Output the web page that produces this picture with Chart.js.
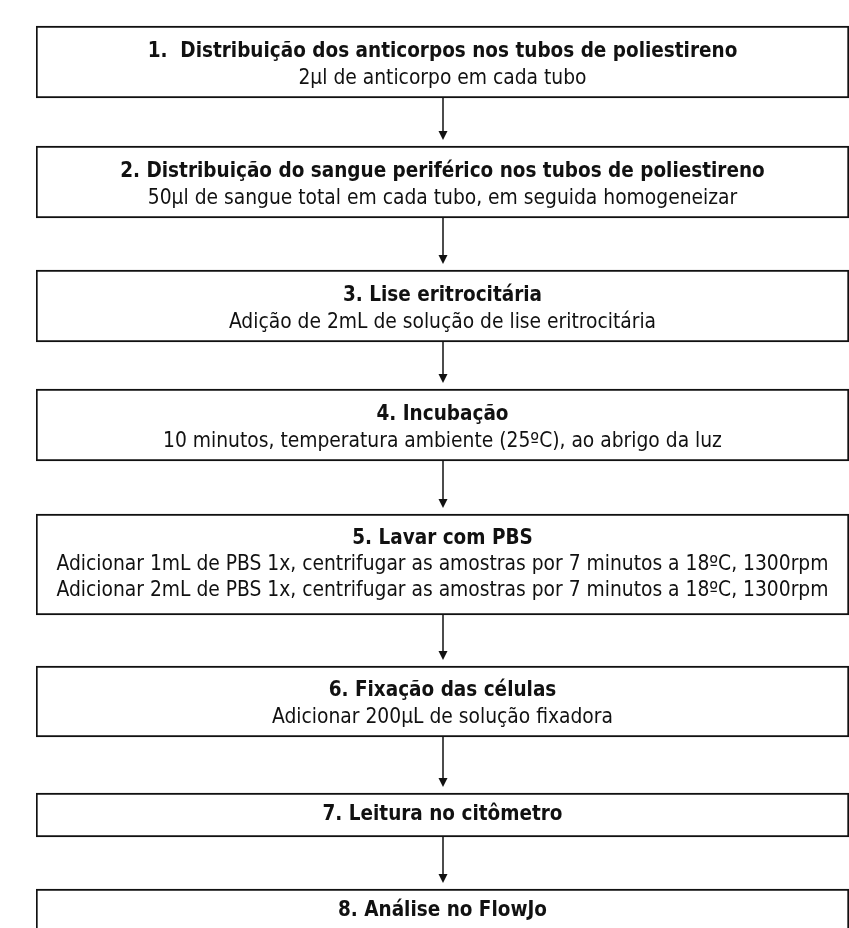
<!DOCTYPE html>
<html>
<head>
<meta charset="utf-8">
<script src="https://cdn.jsdelivr.net/npm/chart.js@4"></script>
<style>
  body { margin: 0; background: #fff; }
  #wrap { width: 849px; height: 928px; }
</style>
</head>
<body>
<div id="wrap"><canvas id="flow"></canvas></div>
<script>
const steps = [
  '1.  Distribuição dos anticorpos nos tubos de poliestireno',
  '2. Distribuição do sangue periférico nos tubos de poliestireno',
  '3. Lise eritrocitária',
  '4. Incubação',
  '5. Lavar com PBS',
  '6. Fixação das células',
  '7. Leitura no citômetro',
  '8. Análise no FlowJo'
];
const details = [
  ['2µl de anticorpo em cada tubo'],
  ['50µl de sangue total em cada tubo, em seguida homogeneizar'],
  ['Adição de 2mL de solução de lise eritrocitária'],
  ['10 minutos, temperatura ambiente (25ºC), ao abrigo da luz'],
  ['Adicionar 1mL de PBS 1x, centrifugar as amostras por 7 minutos a 18ºC, 1300rpm',
   'Adicionar 2mL de PBS 1x, centrifugar as amostras por 7 minutos a 18ºC, 1300rpm'],
  ['Adicionar 200µL de solução fixadora'],
  [],
  []
];
// vertical extent of each box on the page scale (0 = top, 928 = bottom)
const boxStart = [26, 146, 270, 389, 514, 666, 793, 889];
const boxEnd   = [98, 218, 342, 461, 615, 737, 837, 933];

const FONT = '"Liberation Sans Narrow", "DejaVu Sans Condensed", "Arial Narrow", sans-serif';

const flowText = {
  id: 'flowText',
  afterDatasetsDraw(chart) {
    const c = chart.ctx;
    c.save();
    c.textAlign = 'center';
    c.textBaseline = 'middle';
    c.fillStyle = '#111';
    c.strokeStyle = '#111';
    c.lineWidth = 1.5;
    chart.data.datasets.forEach((ds, i) => {
      const bar = chart.getDatasetMeta(i).data[0];
      const top = Math.min(bar.y, bar.base);
      const bottom = Math.max(bar.y, bar.base);
      const lines = [steps[i]].concat(details[i]);
      const gap = lines.length > 2 ? 26 : 27;
      const shift = lines.length === 2 ? 3 : 0;
      const mid = top + (bottom - top) / 2;
      lines.forEach((t, k) => {
        const y = mid - (lines.length - 1) * gap / 2 + k * gap + shift;
        c.font = (k === 0 ? 'bold 20.5px ' : '20.8px ') + FONT;
        c.fillText(t, bar.x, y);
      });
      // arrow to next box
      if (i < chart.data.datasets.length - 1) {
        const next = chart.getDatasetMeta(i + 1).data[0];
        const nTop = Math.min(next.y, next.base);
        const tip = nTop - 6;
        c.beginPath();
        c.moveTo(bar.x + 0.5, bottom);
        c.lineTo(bar.x + 0.5, tip - 6);
        c.stroke();
        c.beginPath();
        c.moveTo(bar.x - 4, tip - 9);
        c.lineTo(bar.x + 5, tip - 9);
        c.lineTo(bar.x + 0.5, tip);
        c.closePath();
        c.fill();
      }
    });
    c.restore();
  }
};

new Chart(document.getElementById('flow'), {
  type: 'bar',
  data: {
    labels: ['fluxo'],
    datasets: steps.map((s, i) => ({
      label: s,
      data: [[boxStart[i], boxEnd[i]]],
      backgroundColor: '#fff',
      borderColor: '#111',
      borderWidth: 2,
      borderSkipped: false,
      grouped: false,
      barPercentage: 1,
      categoryPercentage: 1
    }))
  },
  options: {
    responsive: true,
    maintainAspectRatio: false,
    animation: false,
    layout: { padding: { left: 36, right: 0, top: 0, bottom: 0 } },
    plugins: { legend: { display: false }, tooltip: { enabled: false } },
    scales: {
      x: { display: false },
      y: { display: false, min: 0, max: 928, reverse: true }
    }
  },
  plugins: [flowText]
});
</script>
</body>
</html>
